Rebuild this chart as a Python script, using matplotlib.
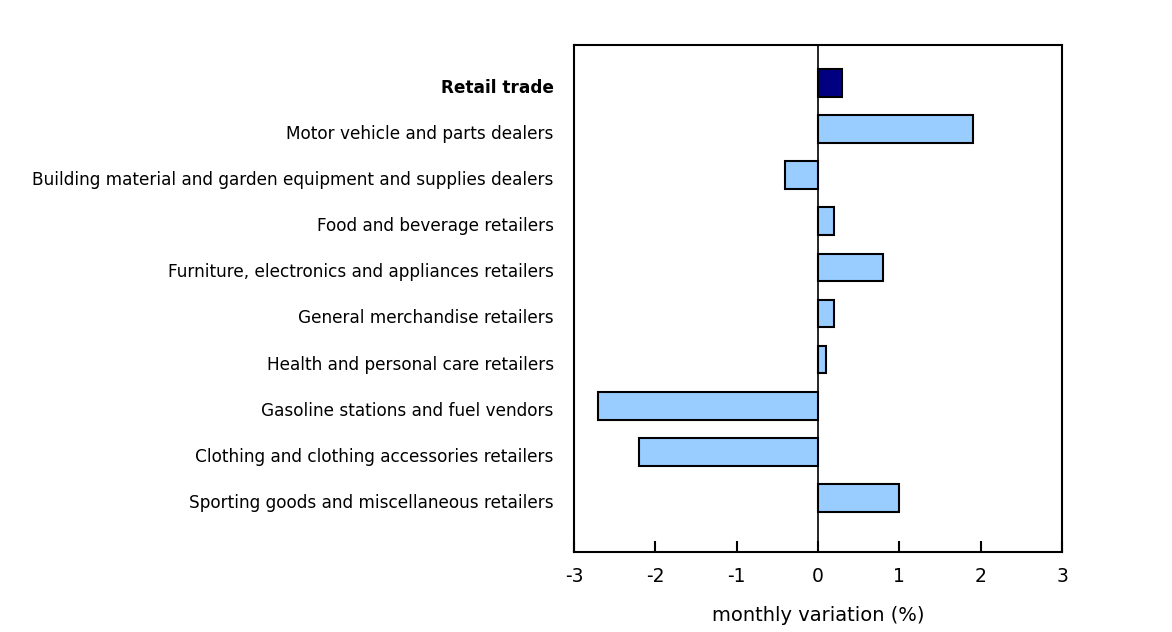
import matplotlib
matplotlib.use("Agg")
import matplotlib.pyplot as plt
from matplotlib.transforms import ScaledTranslation

categories = [
    "Retail trade",
    "Motor vehicle and parts dealers",
    "Building material and garden equipment and supplies dealers",
    "Food and beverage retailers",
    "Furniture, electronics and appliances retailers",
    "General merchandise retailers",
    "Health and personal care retailers",
    "Gasoline stations and fuel vendors",
    "Clothing and clothing accessories retailers",
    "Sporting goods and miscellaneous retailers",
]
values = [0.3, 1.9, -0.4, 0.2, 0.8, 0.2, 0.1, -2.7, -2.2, 1.0]
xticks = [-3, -2, -1, 0, 1, 2, 3]
xtick_labels = ["-3", "-2", "-1", "0", "1", "2", "3"]
xlabel = "monthly variation (%)"

plt.rcParams['font.family'] = ['DejaVu Sans']

fig = plt.figure(figsize=(11.72, 6.32), dpi=100)
ax = fig.add_axes([574/1172, 1 - 552/632, (1062-574)/1172, (552-45)/632])

colors = ["#000080"] + ["#99ccff"] * (len(categories) - 1)
ypos = list(range(len(categories)))
ax.barh(ypos, values, height=0.6, color=colors, edgecolor="black", linewidth=1.5, zorder=3)
ax.axvline(0, color="black", linewidth=1.2, zorder=4)

ax.set_xlim(-3, 3)
ax.set_ylim(10.17, -0.82)
ax.set_yticks(ypos)
ax.set_yticklabels(categories, fontsize=12.2)
ax.get_yticklabels()[0].set_fontweight("bold")
ax.tick_params(axis="y", length=0, pad=14.5)
off = ScaledTranslation(0, -3/100, fig.dpi_scale_trans)
for lab in ax.get_yticklabels():
    lab.set_transform(lab.get_transform() + off)
ax.set_xticks(xticks)
ax.set_xticklabels(xtick_labels, fontsize=13.5)
ax.tick_params(axis="x", direction="in", length=8, width=1.5, pad=11)
ax.set_xlabel(xlabel, fontsize=14, labelpad=14)
for s in ax.spines.values():
    s.set_linewidth(1.5)

fig.savefig("out.png", dpi=100)
